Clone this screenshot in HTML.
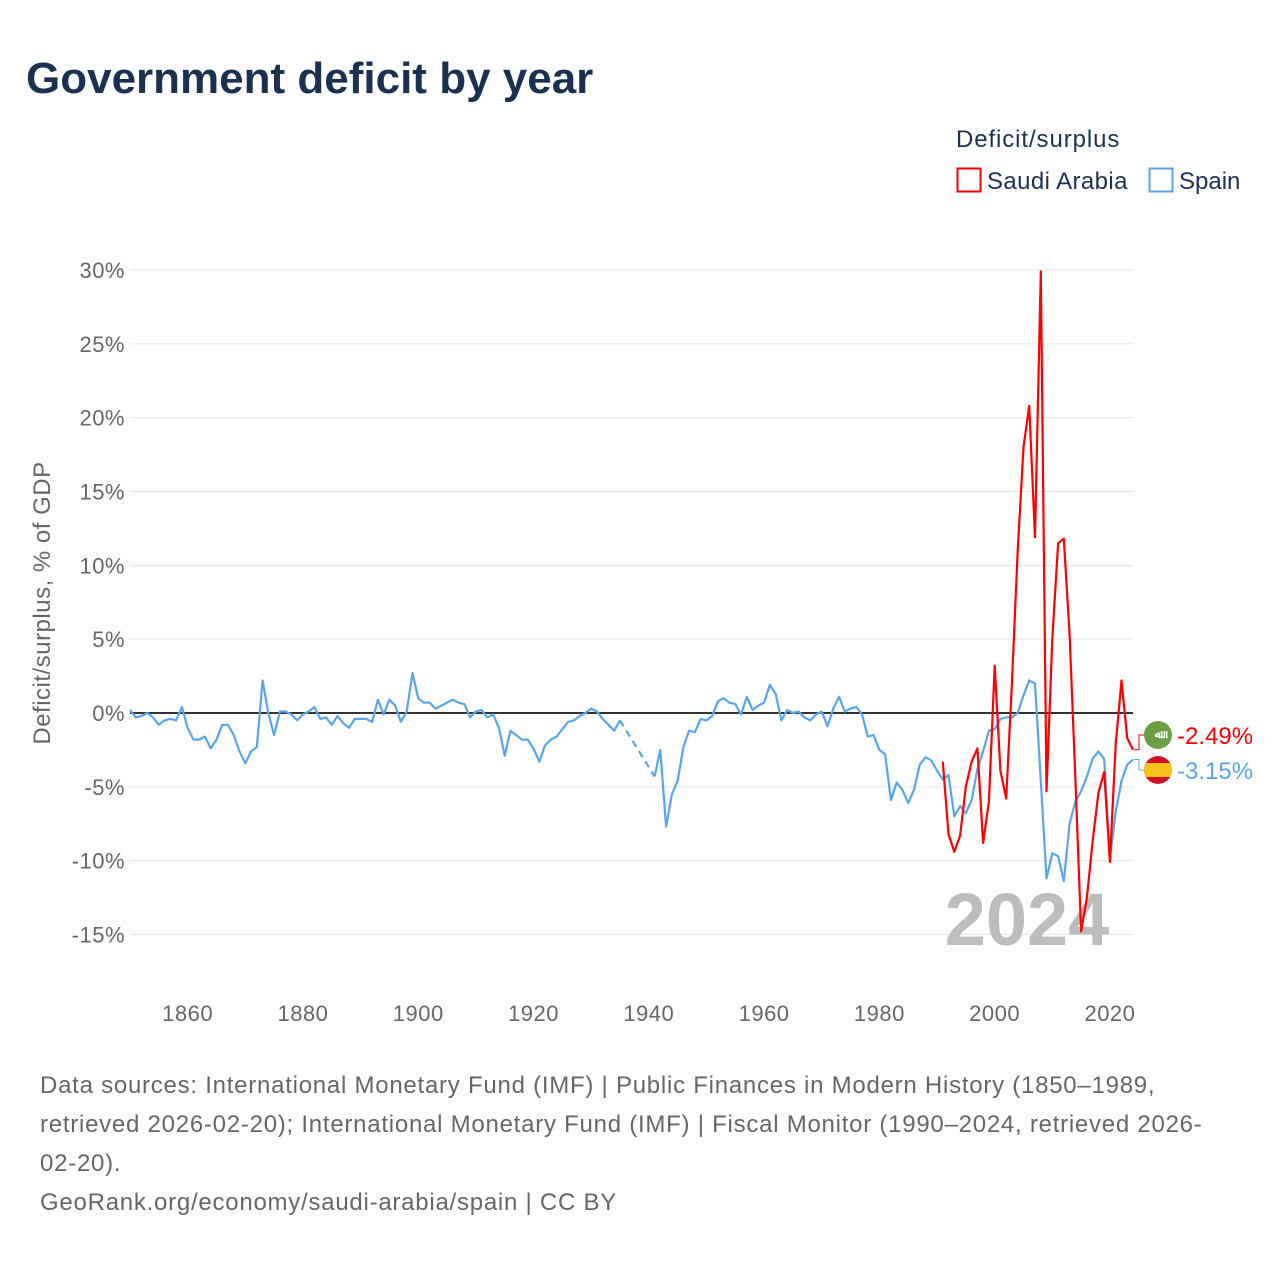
<!DOCTYPE html>
<html><head><meta charset="utf-8"><style>
body{margin:0;background:#fff;font-family:"Liberation Sans","DejaVu Sans",sans-serif}
#wrap{position:relative;width:1280px;height:1280px;overflow:hidden}
</style></head><body>
<div id="wrap">
<svg id="chart" width="1280" height="1280" xmlns="http://www.w3.org/2000/svg">
<text x="26" y="93" font-size="44" font-weight="bold" fill="#1c3150">Government deficit by year</text>
<text x="956" y="147" font-size="24" fill="#1c3150" letter-spacing="0.9">Deficit/surplus</text>
<g><rect x="957.5" y="168.5" width="23" height="23" fill="none" stroke="#ff0000" stroke-width="2"/><text x="987" y="189" font-size="24" fill="#1c3150" letter-spacing="0.4">Saudi Arabia</text></g>
<g><rect x="1149.5" y="168.5" width="23" height="23" fill="none" stroke="#5aa5ea" stroke-width="2"/><text x="1179" y="189" font-size="24" fill="#1c3150">Spain</text></g>
<g id="grid"></g>
<g id="yticks"></g>
<g id="xticks"></g>
<text transform="translate(50,603) rotate(-90)" text-anchor="middle" font-size="24" letter-spacing="0.5" fill="#666">Deficit/surplus, % of GDP</text>
<text x="1027" y="945" text-anchor="middle" font-size="74" font-weight="bold" fill="#bdbdbd">2024</text>
<g id="series"></g>
<g id="endlabels"></g>
<g font-size="24" fill="#666" letter-spacing="0.75">
<text x="40" y="1093">Data sources: International Monetary Fund (IMF) | Public Finances in Modern History (1850–1989,</text>
<text x="40" y="1132">retrieved 2026-02-20); International Monetary Fund (IMF) | Fiscal Monitor (1990–2024, retrieved 2026-</text>
<text x="40" y="1171">02-20).</text>
<text x="40" y="1210">GeoRank.org/economy/saudi-arabia/spain | CC BY</text>
</g>
</svg>
</div>
<script>
const yTicks=[30,25,20,15,10,5,0,-5,-10,-15];
const xTicks=[1860,1880,1900,1920,1940,1960,1980,2000,2020];
const spainStart=1850;
const spainValues=[0.2,-0.3,-0.2,0,-0.3,-0.8,-0.5,-0.4,-0.5,0.4,
-1.0,-1.8,-1.8,-1.6,-2.4,-1.8,-0.8,-0.8,-1.5,-2.6,
-3.4,-2.6,-2.3,2.2,0,-1.5,0.1,0.1,-0.1,-0.5,
-0.1,0.1,0.4,-0.4,-0.3,-0.8,-0.2,-0.7,-1.0,-0.4,
-0.4,-0.4,-0.6,0.9,-0.1,0.9,0.5,-0.6,0.1,2.7,
1.0,0.7,0.7,0.3,0.5,0.7,0.9,0.7,0.6,-0.3,
0.1,0.2,-0.3,-0.1,-1.0,-2.9,-1.2,-1.5,-1.8,-1.8,
-2.4,-3.3,-2.2,-1.8,-1.6,-1.1,-0.6,-0.5,-0.2,0.0,
0.3,0.1,-0.4,-0.8,-1.2,-0.5,null,null,null,null,
null,-4.3,-2.5,-7.7,-5.5,-4.6,-2.3,-1.2,-1.3,-0.4,
-0.5,-0.2,0.8,1.0,0.7,0.6,-0.1,1.1,0.2,0.5,
0.7,1.9,1.3,-0.5,0.2,0,0.1,-0.3,-0.5,-0.1,
0.1,-0.9,0.3,1.1,0.1,0.3,0.4,-0.1,-1.6,-1.5,
-2.5,-2.8,-5.9,-4.7,-5.2,-6.1,-5.2,-3.5,-3.0,-3.2,
-3.9,-4.5,-4.2,-7.0,-6.3,-6.8,-5.9,-3.8,-2.6,-1.2,
-1.1,-0.4,-0.3,-0.3,0,1.2,2.2,2.0,-4.6,-11.2,
-9.5,-9.7,-11.4,-7.5,-6.0,-5.3,-4.3,-3.1,-2.6,-3.1,
-9.9,-6.7,-4.6,-3.5,-3.15];
const saudiStart=1991;
const saudiValues=[-3.3,-8.2,-9.4,-8.3,-5.0,-3.3,-2.4,-8.8,-6.0,3.2,
-3.9,-5.8,2.0,11.0,18.0,20.8,11.9,29.9,-5.3,5.0,
11.5,11.8,5.3,-4.5,-14.8,-12.5,-8.7,-5.4,-4.0,-10.1,
-2.1,2.2,-1.7,-2.49];
const endLabels=["-2.49%","-3.15%"];

const NS="http://www.w3.org/2000/svg";
const X0=130,X1=1133;
const xs=y=>X0+(y-1850)*(X1-X0)/(2024-1850);
const ys=v=>713-v*(713-270)/30;
function mk(tag,attrs,parent){const e=document.createElementNS(NS,tag);for(const k in attrs)e.setAttribute(k,attrs[k]);parent.appendChild(e);return e;}
const grid=document.getElementById('grid'),yt=document.getElementById('yticks'),xt=document.getElementById('xticks'),ser=document.getElementById('series'),el=document.getElementById('endlabels');
yTicks.forEach(t=>{
 if(t!==0){const l=mk('line',{x1:X0,x2:X1,y1:ys(t),y2:ys(t),stroke:'#e6e6e6','stroke-width':1},grid);
 
 }
 const tx=mk('text',{x:125,y:ys(t)+8,'text-anchor':'end','font-size':22,fill:'#666','letter-spacing':0.5},yt);
 tx.textContent=t+'%';
 
 
});
xTicks.forEach(t=>{
 const tx=mk('text',{x:xs(t),y:1021,'text-anchor':'middle','font-size':22,fill:'#666','letter-spacing':0.5},xt);
 tx.textContent=t;
 
 
});
const zl=mk('line',{x1:X0,x2:X1,y1:ys(0),y2:ys(0),stroke:'#333','stroke-width':2},grid);


function drawSeries(start,vals,color,name){
 let segs=[],cur=[];
 vals.forEach((v,i)=>{if(v===null){if(cur.length)segs.push(cur);cur=[];}else cur.push([xs(start+i),ys(v)]);});
 if(cur.length)segs.push(cur);
 segs.forEach((s,k)=>{
  const p=mk('path',{d:'M'+s.map(q=>q[0].toFixed(1)+','+q[1].toFixed(1)).join('L'),fill:'none',stroke:color,'stroke-width':2.2,'stroke-linejoin':'round'},ser);
  
  
  if(k>0){const a=segs[k-1][segs[k-1].length-1],b=s[0];
   const d=mk('line',{x1:a[0],y1:a[1],x2:b[0],y2:b[1],stroke:color,'stroke-width':2.2,'stroke-dasharray':'7,5'},ser);
   
   }
 });
}
drawSeries(spainStart,spainValues,'#5aa5ea','spain');
drawSeries(saudiStart,saudiValues,'#ff0000','saudi-arabia');
const sLast=saudiValues[saudiValues.length-1],pLast=spainValues[spainValues.length-1];
const items=[[sLast,'#ff0000',735,endLabels[0],'saudi'],[pLast,'#5aa5ea',770,endLabels[1],'spain']];
items.forEach(([v,c,ly,lab,n])=>{
 const cn=mk('path',{d:`M${X1+1},${ys(v)}H${X1+6}V${ly}H${X1+12}`,fill:'none',stroke:c,'stroke-width':1},el);
 
 
 if(n==='saudi'){const f=mk('circle',{cx:1158,cy:ly,r:14,fill:'#6aa043'},el);
  
  
  const w=mk('text',{x:1158,y:ly+3,'text-anchor':'middle','font-size':11,fill:'#fff','font-weight':'bold'},el);w.textContent='ﷲ';
  
  
 } else {
  const g=mk('g',{},el);
  
  
  mk('clipPath',{id:'fc'},g).appendChild(document.createElementNS(NS,'circle')).setAttribute('r','14');
  const cc=g.querySelector('clipPath circle');cc.setAttribute('cx',1158);cc.setAttribute('cy',ly);
  mk('rect',{x:1144,y:ly-14,width:28,height:28,fill:'#d41027','clip-path':'url(#fc)'},g);
  mk('rect',{x:1144,y:ly-7,width:28,height:14,fill:'#f6c21c','clip-path':'url(#fc)'},g);
 }
 const t=mk('text',{x:1177,y:ly+9,'font-size':24,fill:c},el);t.textContent=lab;
 
 
});
</script>
</body></html>
